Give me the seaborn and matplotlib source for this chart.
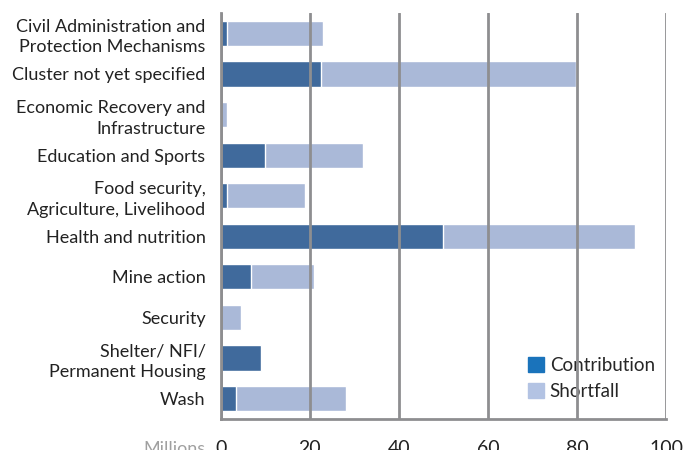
import numpy as np
import pandas as pd
import seaborn as sns
import matplotlib.pyplot as plt
from matplotlib.patches import Patch

# DATA (millions)
clusters = [
    'Civil Administration and\nProtection Mechanisms',
    'Cluster not yet specified',
    'Economic Recovery and\nInfrastructure',
    'Education and Sports',
    'Food security,\nAgriculture, Livelihood',
    'Health and nutrition',
    'Mine action',
    'Security',
    'Shelter/ NFI/\nPermanent Housing',
    'Wash',
]
contribution = [1.3, 22.5, 0.0, 9.9, 1.3, 49.8, 6.7, 0.0, 9.0, 3.5]
shortfall = [21.7, 57.2, 1.3, 22.1, 17.7, 43.2, 14.3, 4.5, 0.0, 24.5]

df = pd.DataFrame({'cluster': clusters, 'Contribution': contribution, 'Shortfall': shortfall})
df['total'] = df['Contribution'] + df['Shortfall']

sns.set_style('white')
plt.rcParams['font.family'] = ['Lato', 'DejaVu Sans']

GRID = '#8e8e90'
C_BAR = '#406a9c'
S_BAR = '#aab9d8'

fig = plt.figure(figsize=(6.86, 4.5), dpi=100)
ax = fig.add_axes([0.322, 0.069, 0.649, 0.902])

sns.barplot(data=df, y='cluster', x='total', color=S_BAR, orient='h',
            width=0.62, saturation=1, ax=ax, zorder=1)
sns.barplot(data=df, y='cluster', x='Contribution', color=C_BAR, orient='h',
            width=0.62, saturation=1, ax=ax, zorder=2)

ax.set_xlim(0, 100)
ax.set_ylim(len(clusters) - 0.5, -0.5)
ax.set_xticks([0, 20, 40, 60, 80, 100])
ax.xaxis.grid(True, color=GRID, linewidth=2)
ax.set_axisbelow(False)
ax.set_xlabel('')
ax.set_ylabel('')

sns.despine(ax=ax, top=True, right=True)
for s in ['left', 'bottom']:
    ax.spines[s].set_color(GRID)
    ax.spines[s].set_linewidth(2)

ax.tick_params(axis='y', which='major', length=0, labelsize=13, pad=11, labelcolor='#222222')
for lbl in ax.get_yticklabels():
    lbl.set_linespacing(1.35)
ax.set_yticks(np.arange(-0.5, len(clusters)), minor=True)
ax.tick_params(axis='y', which='minor', length=7, width=1.5, color=GRID, direction='out')
ax.tick_params(axis='x', length=6, width=1.5, color=GRID, labelsize=14, pad=9, labelcolor='#222222')

ax.text(-0.035, -0.075, 'Millions', transform=ax.transAxes, ha='right', va='center',
        fontsize=13, color='#a0a0a0')

handles = [Patch(color='#1a73bb', label='Contribution'), Patch(color='#b3c3e3', label='Shortfall')]
leg = ax.legend(handles=handles, loc='lower right', bbox_to_anchor=(1.0, 0.02), frameon=False,
                fontsize=13.5, handlelength=0.85, handleheight=0.85, handletextpad=0.3,
                labelspacing=0.45, borderaxespad=0.2)
leg.set_zorder(2.2)

fig.savefig('out.png', dpi=100)
